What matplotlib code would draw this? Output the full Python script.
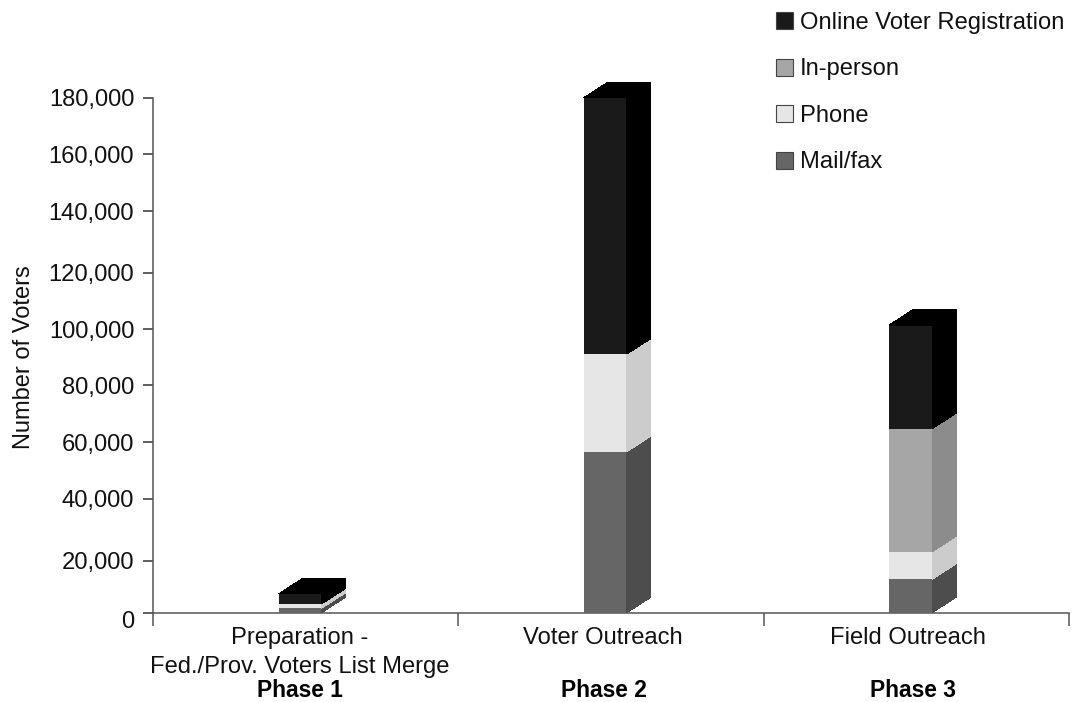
import numpy as np
import matplotlib
matplotlib.use('Agg')
import matplotlib.pyplot as plt
from matplotlib.patches import Patch, Polygon
from matplotlib.transforms import Affine2D

plt.rcParams['font.family'] = ['Liberation Sans', 'DejaVu Sans']

categories = ['Preparation -\nFed./Prov. Voters List Merge', 'Voter Outreach', 'Field Outreach']
phases = ['Phase 1', 'Phase 2', 'Phase 3']
series_names = ['Mail/fax', 'Phone', 'In-person', 'Online Voter Registration']

# number of voters in each segment
mail = [1700, 56700, 12850]
phone = [1650, 34400, 10050]
in_person = [0, 0, 41870]
online = [3850, 88900, 36630]
series_values = [mail, phone, in_person, online]

tick_values = [0, 20000, 40000, 60000, 80000, 100000, 120000, 140000, 160000, 180000]
# the source axis is unevenly spaced, these are the heights of its ticks in px
tick_heights = [0, 52, 113.7, 170.4, 227.4, 283.7, 340, 401.7, 458.4, 515]

front_colors = ['#666666', '#e6e6e6', '#a6a6a6', '#1a1a1a']
side_colors = ['#4d4d4d', '#cccccc', '#8c8c8c', '#000000']
axis_color = '#555555'
font_size = 17.1
depth_x, depth_y = 24, 15.5
bar_width = 0.141
bar_offset = 0.4816
# labels are not quite centred under the bars in the source
category_shift = [0, -2.5, -3]
phase_shift = [0, -1, 2]


def forward(v):
    return np.interp(v, tick_values, tick_heights)


def inverse(h):
    return np.interp(h, tick_heights, tick_values)


fig = plt.figure(figsize=(10.77, 7.02), dpi=100)
ax = fig.add_axes([153 / 1077, 1 - 612.7 / 702, 916 / 1077, 515 / 702])
ax.set_yscale('function', functions=(forward, inverse))
ax.set_xlim(0, 3)
ax.set_ylim(0, 180000)

for side in ['top', 'right']:
    ax.spines[side].set_visible(False)
for side in ['left', 'bottom']:
    ax.spines[side].set_color(axis_color)
    ax.spines[side].set_linewidth(1.1)

ax.set_xticks([0, 1, 2, 3])
ax.set_xticklabels([])
ax.tick_params(axis='x', length=9.4, width=1.1, color=axis_color)
ax.set_yticks(tick_values)
ax.set_yticklabels([f'{v:,}' for v in tick_values], fontsize=font_size, color='#111111')
ax.tick_params(axis='y', length=7, width=1.1, color='#333333', pad=6.5)
ax.minorticks_off()

# zero label sits a bit under its tick
zero_label = ax.get_yticklabels()[0]
zero_label.set_transform(zero_label.get_transform() + Affine2D().translate(0, -7))

x = np.arange(3) + bar_offset
bottom = np.zeros(3)
for values, front, side in zip(series_values, front_colors, side_colors):
    ax.bar(x, values, bar_width, bottom=bottom, color=front, linewidth=0, zorder=3)
    top = bottom + np.array(values)
    for xi, y0, y1 in zip(x, bottom, top):
        if y1 == y0:
            continue
        (rx, py0) = ax.transData.transform((xi + bar_width / 2, y0))
        (_, py1) = ax.transData.transform((xi + bar_width / 2, y1))
        ax.add_patch(Polygon([(rx, py0), (rx + depth_x, py0 + depth_y),
                              (rx + depth_x, py1 + depth_y), (rx, py1)],
                             transform=None, facecolor=side, linewidth=0, zorder=3,
                             clip_on=False, antialiased=False))
    bottom = top

# top faces
for xi, y1 in zip(x, bottom):
    (lx, py) = ax.transData.transform((xi - bar_width / 2, y1))
    (rx, _) = ax.transData.transform((xi + bar_width / 2, y1))
    ax.add_patch(Polygon([(lx, py), (lx + depth_x, py + depth_y),
                          (rx + depth_x, py + depth_y), (rx, py)],
                         transform=None, facecolor='#000000', linewidth=0, zorder=3,
                         clip_on=False, antialiased=False))

trans = ax.get_xaxis_transform()
for xi, cat, phase, cs, ps in zip(x, categories, phases, category_shift, phase_shift):
    ax.annotate(cat, xy=(xi, 0), xycoords=trans, xytext=(cs, -14), textcoords='offset pixels',
                ha='center', va='top', fontsize=font_size, linespacing=1.43, color='#111111')
    ax.annotate(phase, xy=(xi, 0), xycoords=trans, xytext=(ps, -78), textcoords='offset pixels',
                ha='center', va='center', fontsize=16.4, fontweight='bold', color='#000000')

fig.text(24 / 1077, 1 - 357 / 702, 'Number of Voters', rotation=90, ha='center', va='center',
         fontsize=17, color='#111111')

handles = [Patch(facecolor=c, edgecolor='#444444', linewidth=0.8) for c in front_colors[::-1]]
ax.legend(handles, series_names[::-1], loc='upper left', bbox_to_anchor=(776 / 1077, 1 - 12 / 702),
          bbox_transform=fig.transFigure, frameon=False, fontsize=font_size, borderpad=0, borderaxespad=0,
          handlelength=0.72, handleheight=0.72, handletextpad=0.3, labelspacing=1.03, labelcolor='#111111')

fig.savefig('out.png', dpi=100)
